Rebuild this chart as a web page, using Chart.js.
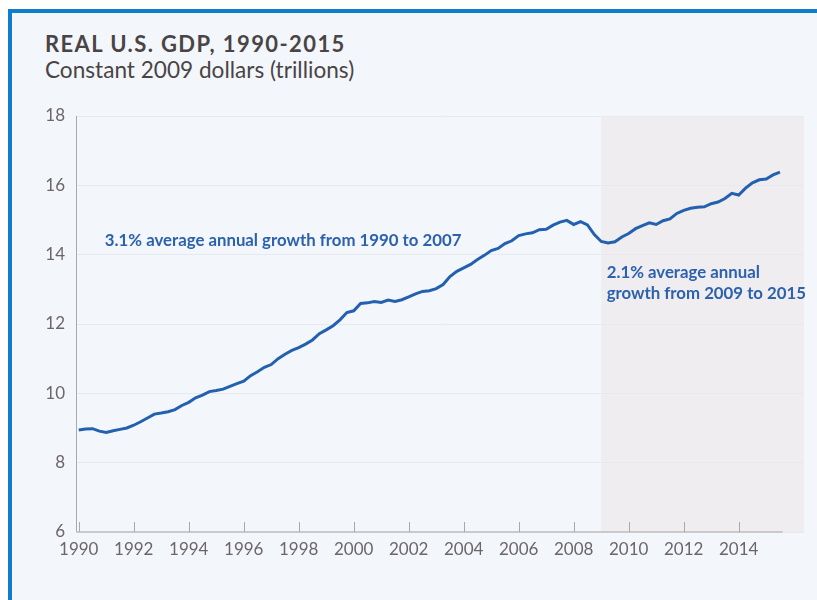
<!DOCTYPE html>
<html>
<head>
<meta charset="utf-8">
<script src="https://cdn.jsdelivr.net/npm/chart.js@4.4.1/dist/chart.umd.min.js"></script>
<style>
html, body { margin: 0; padding: 0; background: #fff; overflow: hidden; }
body { width: 817px; height: 600px; position: relative; font-family: Lato, "Open Sans", sans-serif; }
#panel { position: absolute; left: 8px; top: 9px; width: 805px; height: 587px; background: #f3f7fb;
         border-left: 4px solid #0f7ccc; border-top: 4px solid #0f7ccc; }
#title { position: absolute; left: 45px; top: 30px; font-size: 22px; font-weight: 700; color: #4a4446; letter-spacing: 1.4px; white-space: nowrap; }
#subtitle { position: absolute; left: 45px; top: 56px; font-size: 22.6px; color: #4a4446; white-space: nowrap; }
#wrap { position: absolute; left: 0; top: 100px; width: 817px; height: 470px; }
</style>
</head>
<body>
<div id="panel"></div>
<div id="title">REAL U.S. GDP, 1990-2015</div>
<div id="subtitle">Constant 2009 dollars (trillions)</div>
<div id="wrap"><canvas id="gdpChart"></canvas></div>
<script>
// quarterly real GDP, trillions of 2009 dollars, starting 1990 Q1
const startYear = 1990;
const gdp = [
    8.94, 8.97, 8.98, 8.91,
    8.87, 8.92, 8.96, 9.00,
    9.08, 9.18, 9.29, 9.40,
    9.43, 9.47, 9.53, 9.65,
    9.74, 9.87, 9.95, 10.05,
    10.08, 10.12, 10.20, 10.28,
    10.35, 10.51, 10.62, 10.75,
    10.83, 11.00, 11.13, 11.24,
    11.32, 11.42, 11.54, 11.72,
    11.83, 11.95, 12.12, 12.33,
    12.38, 12.59, 12.61, 12.65,
    12.62, 12.69, 12.65, 12.70,
    12.78, 12.87, 12.94, 12.96,
    13.02, 13.14, 13.37, 13.52,
    13.62, 13.72, 13.86, 13.98,
    14.12, 14.18, 14.32, 14.40,
    14.55, 14.60, 14.63, 14.72,
    14.73, 14.85, 14.94, 14.99,
    14.87, 14.95, 14.86, 14.58,
    14.38, 14.34, 14.37, 14.51,
    14.61, 14.75, 14.84, 14.92,
    14.87, 14.98, 15.03, 15.19,
    15.28, 15.34, 15.37, 15.38,
    15.47, 15.52, 15.62, 15.77,
    15.72, 15.92, 16.07, 16.16,
    16.18, 16.30, 16.38
];
const xTickYears = [1990, 1992, 1994, 1996, 1998, 2000, 2002, 2004, 2006, 2008, 2010, 2012, 2014];
const yTicks = [6, 8, 10, 12, 14, 16, 18];
const shadeFrom = 2009;
const note1 = ['3.1% average annual growth from 1990 to 2007'];
const note2 = ['2.1% average annual', 'growth from 2009 to 2015'];

const points = gdp.map((v, i) => ({ x: startYear + i / 4, y: v }));

const decor = {
    id: 'decor',
    beforeDraw(c) {
        const { ctx, chartArea, scales } = c;
        const x0 = scales.x.getPixelForValue(shadeFrom);
        ctx.save();
        ctx.fillStyle = '#efedf0';
        ctx.fillRect(x0, chartArea.top, chartArea.right - x0, chartArea.bottom - chartArea.top);
        ctx.restore();
    },
    afterDatasetsDraw(c) {
        const { ctx, chartArea, scales } = c;
        const xs = scales.x, ys = scales.y;
        const yb = chartArea.bottom;
        ctx.save();
        // x axis line and inward tick marks
        ctx.strokeStyle = '#cacaca';
        ctx.lineWidth = 2;
        ctx.beginPath();
        ctx.moveTo(chartArea.left, yb);
        ctx.lineTo(xs.getPixelForValue(2015.6), yb);
        ctx.stroke();
        ctx.strokeStyle = '#a8a8a8';
        ctx.lineWidth = 1;
        xTickYears.forEach(yr => {
            const px = Math.round(xs.getPixelForValue(yr)) + 0.5;
            ctx.beginPath();
            ctx.moveTo(px, yb - 10);
            ctx.lineTo(px, yb);
            ctx.stroke();
        });
        // notes
        ctx.fillStyle = '#2b61ad';
        ctx.font = 'bold 16.8px Lato, sans-serif';
        ctx.textBaseline = 'middle';
        note1.forEach((t, i) => ctx.fillText(t, xs.getPixelForValue(1990.95), ys.getPixelForValue(14.42) - i * 21));
        note2.forEach((t, i) => ctx.fillText(t, xs.getPixelForValue(2009.2), ys.getPixelForValue(13.49) + i * 21));
        ctx.restore();
    }
};

const chart = new Chart(document.getElementById('gdpChart'), {
    type: 'line',
    data: {
        datasets: [{
            data: points,
            borderColor: '#2360ad',
            borderWidth: 3,
            pointRadius: 0,
            tension: 0,
            fill: false
        }]
    },
    options: {
        responsive: true,
        maintainAspectRatio: false,
        animation: false,
        layout: { padding: { left: 0, right: 13, top: 16, bottom: 8 } },
        plugins: { legend: { display: false }, tooltip: { enabled: false } },
        scales: {
            x: {
                type: 'linear',
                min: 1989.9,
                max: 2016.375,
                grid: { display: false, drawTicks: false },
                border: { display: false },
                afterBuildTicks: s => { s.ticks = xTickYears.map(v => ({ value: v })); },
                afterFit: s => { s.height = 30; s.paddingLeft = 0; s.paddingRight = 0; },
                ticks: {
                    color: '#6d6668',
                    font: { family: 'Lato, sans-serif', size: 17 },
                    padding: 7,
                    maxRotation: 0,
                    autoSkip: false,
                    callback: v => String(v)
                }
            },
            y: {
                min: 6,
                max: 18,
                afterBuildTicks: s => { s.ticks = yTicks.map(v => ({ value: v })); },
                afterFit: s => { s.width = 76; s.paddingTop = 0; s.paddingBottom = 0; },
                grid: { color: '#e6eaee', drawTicks: false },
                border: { color: '#a9a9a9', width: 1 },
                ticks: {
                    color: '#6d6668',
                    font: { family: 'Lato, sans-serif', size: 17 },
                    padding: 11
                }
            }
        }
    },
    plugins: [decor]
});
</script>
</body>
</html>
